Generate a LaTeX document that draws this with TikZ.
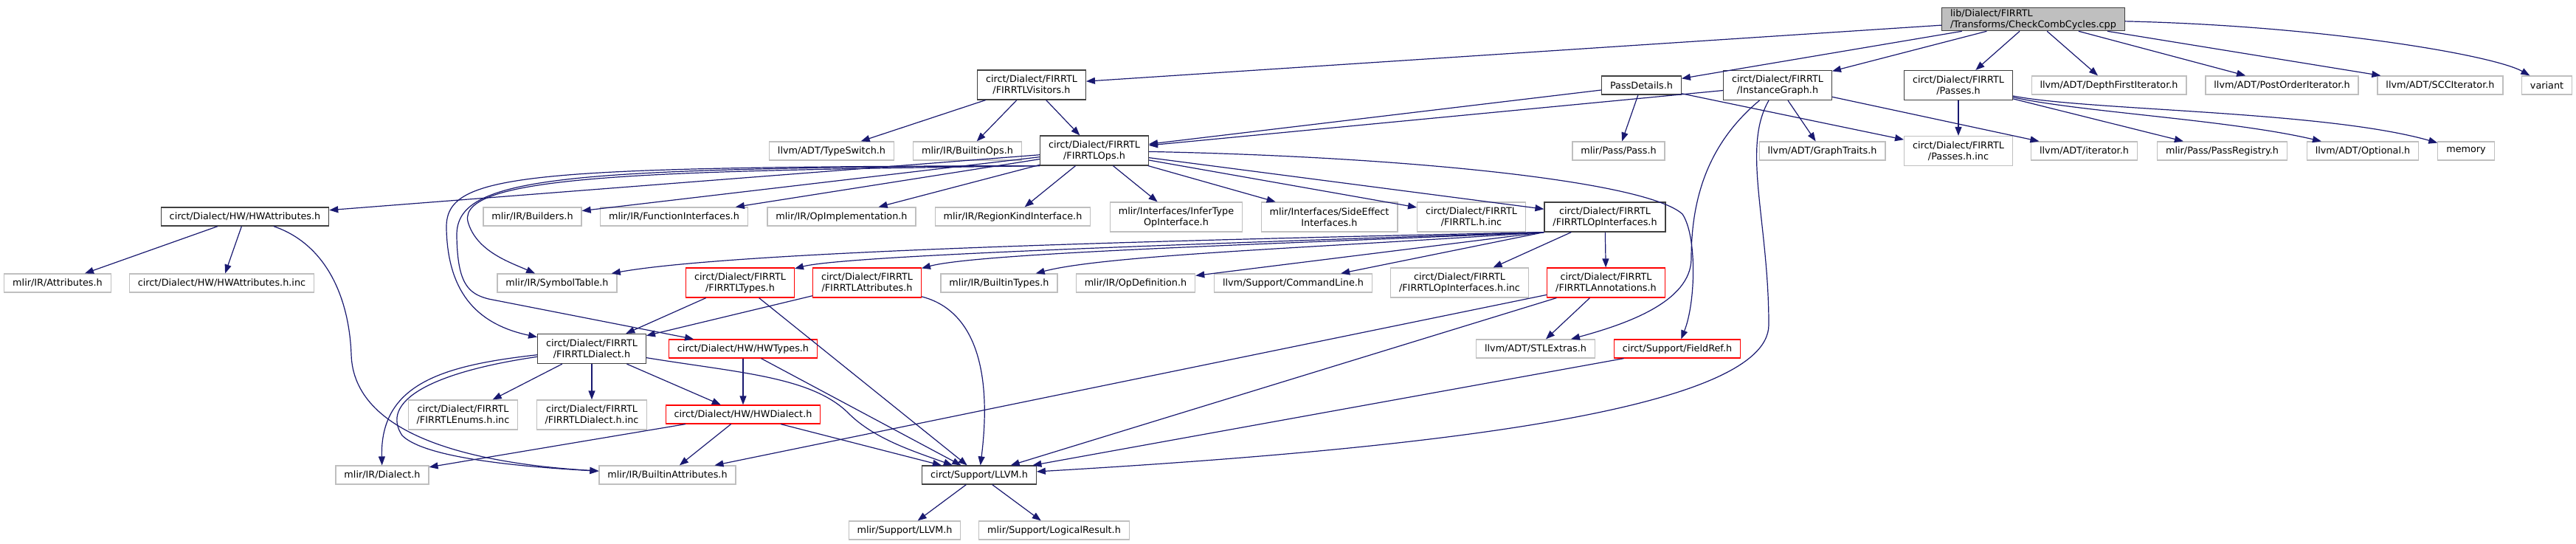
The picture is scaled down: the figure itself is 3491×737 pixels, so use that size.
\documentclass[tikz,border=0pt]{standalone}
\usepackage{fontspec}
\setmainfont{DejaVu Sans}
\usetikzlibrary{arrows.meta}
\definecolor{edgeblue}{HTML}{191970}
\definecolor{extgray}{HTML}{BFBFBF}
\definecolor{docgray}{HTML}{404040}
\tikzset{
  hdr/.style={draw=extgray, line width=0.6pt, inner xsep=5.7pt, inner ysep=1pt,
    minimum height=12.5pt, align=center, font=\fontsize{6.4}{7.5}\selectfont},
  hdrext/.style={hdr},
  hdrdoc/.style={hdr, draw=docgray},
  hdrcut/.style={hdr, draw=red},
  hdrroot/.style={hdr, draw=docgray, fill=extgray, align=left},
  twoline/.style={minimum height=20pt},
  incl/.style={draw=edgeblue, line width=0.6pt, -{Triangle[length=6pt,width=4.5pt]}}
}
\begin{document}
\begin{tikzpicture}[x=0.5pt,y=-0.5pt]
\useasboundingbox (0,0) rectangle (3491,737);
% the file itself and what it includes
\node[hdrroot] (root) at (2755.5,26) {lib/Dialect/FIRRTL\\/Transforms/CheckCombCycles.cpp};
\node[hdrdoc,twoline] (visitors) at (1398,115) {circt/Dialect/FIRRTL\\/FIRRTLVisitors.h};
\node[hdrdoc] (passdet) at (2224.5,115.5) {PassDetails.h};
\node[hdrdoc,twoline] (instgraph) at (2409,115.5) {circt/Dialect/FIRRTL\\/InstanceGraph.h};
\node[hdrdoc,twoline] (passes) at (2654,115.5) {circt/Dialect/FIRRTL\\/Passes.h};
\node[hdrext] (dfi) at (2858,115.5) {llvm/ADT/DepthFirstIterator.h};
\node[hdrext] (poi) at (3092.5,115.5) {llvm/ADT/PostOrderIterator.h};
\node[hdrext] (scc) at (3307,115.5) {llvm/ADT/SCCIterator.h};
\node[hdrext] (variant) at (3451.5,115.5) {variant};

\node[hdrext] (typeswitch) at (1127,204.5) {llvm/ADT/TypeSwitch.h};
\node[hdrext] (builtinops) at (1311,204.5) {mlir/IR/BuiltinOps.h};
\node[hdrdoc,twoline] (firrtlops) at (1483,204) {circt/Dialect/FIRRTL\\/FIRRTLOps.h};
\node[hdrext] (passh) at (2193.5,204.5) {mlir/Pass/Pass.h};
\node[hdrext] (graphtraits) at (2469.5,204.5) {llvm/ADT/GraphTraits.h};
\node[hdrext,twoline] (passesinc) at (2654,204.5) {circt/Dialect/FIRRTL\\/Passes.h.inc};
\node[hdrext] (iterator) at (2824.5,204.5) {llvm/ADT/iterator.h};
\node[hdrext] (passreg) at (3011.5,204.5) {mlir/Pass/PassRegistry.h};
\node[hdrext] (optional) at (3202,204.5) {llvm/ADT/Optional.h};
\node[hdrext] (memory) at (3342,204.5) {memory};

\node[hdrdoc] (hwattr) at (332,293.5) {circt/Dialect/HW/HWAttributes.h};
\node[hdrext] (builders) at (721.5,293.5) {mlir/IR/Builders.h};
\node[hdrext] (funcif) at (913.5,293.5) {mlir/IR/FunctionInterfaces.h};
\node[hdrext] (opimpl) at (1140.5,293.5) {mlir/IR/OpImplementation.h};
\node[hdrext] (regionkind) at (1372.5,293.5) {mlir/IR/RegionKindInterface.h};
\node[hdrext,twoline] (infertype) at (1594,294) {mlir/Interfaces/InferType\\OpInterface.h};
\node[hdrext,twoline] (sideeffect) at (1801.5,294) {mlir/Interfaces/SideEffect\\Interfaces.h};
\node[hdrext,twoline] (firrtlinc) at (1994,294) {circt/Dialect/FIRRTL\\/FIRRTL.h.inc};
\node[hdrdoc,twoline] (opifaces) at (2175,294) {circt/Dialect/FIRRTL\\/FIRRTLOpInterfaces.h};

\node[hdrext] (attrs) at (78,383.5) {mlir/IR/Attributes.h};
\node[hdrext] (hwattrinc) at (300.5,383.5) {circt/Dialect/HW/HWAttributes.h.inc};
\node[hdrext] (symtable) at (755,383.5) {mlir/IR/SymbolTable.h};
\node[hdrcut,twoline] (firtypes) at (1003,383) {circt/Dialect/FIRRTL\\/FIRRTLTypes.h};
\node[hdrcut,twoline] (firattrs) at (1175,383) {circt/Dialect/FIRRTL\\/FIRRTLAttributes.h};
\node[hdrext] (builtintypes) at (1354,383.5) {mlir/IR/BuiltinTypes.h};
\node[hdrext] (opdef) at (1539,383.5) {mlir/IR/OpDefinition.h};
\node[hdrext] (cmdline) at (1752.5,383.5) {llvm/Support/CommandLine.h};
\node[hdrext,twoline] (opifacesinc) at (1978,383) {circt/Dialect/FIRRTL\\/FIRRTLOpInterfaces.h.inc};
\node[hdrcut,twoline] (annos) at (2176.5,383) {circt/Dialect/FIRRTL\\/FIRRTLAnnotations.h};

\node[hdrdoc,twoline] (firdialect) at (802,472.5) {circt/Dialect/FIRRTL\\/FIRRTLDialect.h};
\node[hdrcut] (hwtypes) at (1007,472.5) {circt/Dialect/HW/HWTypes.h};
\node[hdrext] (stlextras) at (2081,472.5) {llvm/ADT/STLExtras.h};
\node[hdrcut] (fieldref) at (2273,472.5) {circt/Support/FieldRef.h};

\node[hdrext,twoline] (enumsinc) at (627.5,562) {circt/Dialect/FIRRTL\\/FIRRTLEnums.h.inc};
\node[hdrext,twoline] (dialectinc) at (802,562) {circt/Dialect/FIRRTL\\/FIRRTLDialect.h.inc};
\node[hdrcut] (hwdialect) at (1007,561.5) {circt/Dialect/HW/HWDialect.h};

\node[hdrext] (mlirdialect) at (518,643.5) {mlir/IR/Dialect.h};
\node[hdrext] (builtinattrs) at (904.5,643.5) {mlir/IR/BuiltinAttributes.h};
\node[hdrdoc] (llvmh) at (1327,643.5) {circt/Support/LLVM.h};

\node[hdrext] (mlirllvm) at (1226,718.5) {mlir/Support/LLVM.h};
\node[hdrext] (logical) at (1428.5,718.5) {mlir/Support/LogicalResult.h};

% straight include edges
\foreach \a/\b in {root/visitors, root/passdet, root/instgraph, root/passes, root/dfi,
    root/poi, root/scc, visitors/typeswitch, visitors/builtinops, visitors/firrtlops,
    passdet/firrtlops, passdet/passh, passdet/passesinc, instgraph/firrtlops,
    instgraph/graphtraits, instgraph/iterator, passes/passesinc, passes/passreg,
    firrtlops/hwattr, firrtlops/builders, firrtlops/funcif, firrtlops/opimpl,
    firrtlops/regionkind, firrtlops/infertype, firrtlops/sideeffect, firrtlops/firrtlinc,
    firrtlops/opifaces, opifaces/opifacesinc, opifaces/annos, hwattr/attrs,
    hwattr/hwattrinc, firtypes/firdialect, firtypes/llvmh, firattrs/firdialect,
    hwtypes/hwdialect, hwtypes/llvmh, firdialect/enumsinc, firdialect/dialectinc,
    firdialect/hwdialect, hwdialect/mlirdialect, hwdialect/builtinattrs, hwdialect/llvmh,
    annos/stlextras, annos/llvmh, annos/builtinattrs, fieldref/llvmh,
    llvmh/mlirllvm, llvmh/logical}
  \draw[incl] (\a) -- (\b);
\draw[incl] (opifaces.south west) -- (cmdline);
\draw[incl] (opifaces.south west) -- (opdef);

% curved ones
\draw[incl] (opifaces.south west) .. controls (1800,335) and (1500,345) .. (builtintypes);
\draw[incl] (opifaces.south west) .. controls (1750,330) and (1330,342) .. (firattrs);
\draw[incl] (opifaces.south west) .. controls (1700,328) and (1150,345) .. (firtypes);
\draw[incl] (opifaces.south west) .. controls (1600,325) and (1000,340) .. (symtable);
\draw[incl] (root) .. controls (3150,35) and (3380,75) .. (variant);
\draw[incl] (passes) .. controls (2820,152) and (3020,162) .. (optional);
\draw[incl] (passes) .. controls (2830,150) and (3150,150) .. (memory);
\draw[incl] (instgraph) .. controls (2320,190) and (2292,260) .. (2292,350)
                         .. controls (2292,410) and (2200,440) .. (stlextras);
\draw[incl] (instgraph) .. controls (2360,200) and (2397,300) .. (2397,440)
                         .. controls (2397,560) and (1900,610) .. (llvmh);
\draw[incl] (firrtlops) .. controls (1900,212) and (2230,245) .. (2280,290)
                         .. controls (2300,320) and (2298,410) .. (fieldref);
\draw[incl] (firrtlops.south west) .. controls (900,232) and (620,235) .. (634,300)
                         .. controls (645,340) and (690,355) .. (symtable);
\draw[incl] (firrtlops.south west) .. controls (700,226) and (603,235) .. (605,310)
                         .. controls (607,400) and (650,440) .. (firdialect);
\draw[incl] (firrtlops.south west) .. controls (760,228) and (617,238) .. (619,320)
                         .. controls (620,385) and (635,398) .. (662,405) -- (hwtypes);
\draw[incl] (firattrs) .. controls (1320,420) and (1345,500) .. (llvmh);
\draw[incl] (firdialect) .. controls (1000,505) and (1100,510) .. (1150,560)
                         .. controls (1185,595) and (1240,612) .. (llvmh);
\draw[incl] (firdialect) .. controls (600,495) and (515,520) .. (mlirdialect);
\draw[incl] (firdialect) .. controls (580,505) and (515,545) .. (545,590)
                         .. controls (575,620) and (700,632) .. (builtinattrs);
\draw[incl] (hwattr) .. controls (440,330) and (473,400) .. (476,480)
                      .. controls (479,590) and (640,628) .. (builtinattrs);
\end{tikzpicture}
\end{document}
